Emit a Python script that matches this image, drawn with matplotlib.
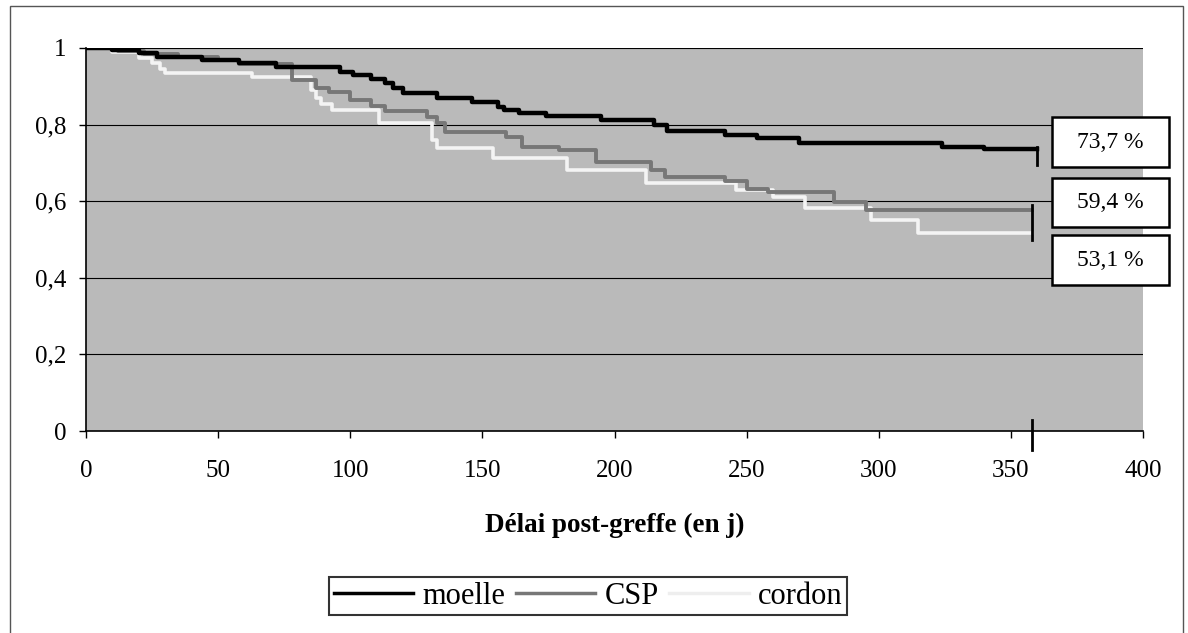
import matplotlib.pyplot as plt
from matplotlib.patches import Rectangle
from matplotlib.lines import Line2D

plt.rcParams['font.family'] = ['Liberation Serif', 'DejaVu Serif']

# survival curves (day, probability)
t_moelle = [0, 10, 20, 27, 44, 58, 72, 96, 101, 108, 113, 116, 120, 133, 146, 156, 158,
            164, 174, 195, 215, 220, 242, 254, 270, 324, 340, 360]
s_moelle = [1, 0.994, 0.986, 0.977, 0.969, 0.961, 0.95, 0.937, 0.93, 0.92, 0.909, 0.896,
            0.883, 0.87, 0.859, 0.846, 0.839, 0.831, 0.823, 0.812, 0.80, 0.784, 0.773,
            0.765, 0.753, 0.742, 0.737, 0.737]

t_csp = [0, 12, 22, 35, 50, 58, 78, 87, 92, 100, 108, 113, 129, 133, 136, 159, 165, 179,
         193, 214, 219, 242, 250, 258, 283, 295, 358]
s_csp = [1, 0.992, 0.984, 0.976, 0.968, 0.958, 0.917, 0.896, 0.885, 0.865, 0.848, 0.835,
         0.82, 0.805, 0.78, 0.768, 0.742, 0.734, 0.703, 0.682, 0.664, 0.654, 0.632,
         0.625, 0.599, 0.578, 0.578]

t_cordon = [0, 10, 20, 25, 28, 30, 63, 85, 87, 89, 93, 111, 131, 133, 154, 182, 212,
            246, 260, 272, 297, 315, 358]
s_cordon = [1, 0.99, 0.975, 0.96, 0.945, 0.935, 0.925, 0.89, 0.87, 0.855, 0.839, 0.805,
            0.76, 0.74, 0.714, 0.682, 0.648, 0.63, 0.612, 0.583, 0.552, 0.518, 0.518]

labels = ['73,7 %', '59,4 %', '53,1 %']
xticks = [0, 50, 100, 150, 200, 250, 300, 350, 400]
yticks = [0, 0.2, 0.4, 0.6, 0.8, 1]
ytick_labels = ['0', '0,2', '0,4', '0,6', '0,8', '1']

W, H = 1188, 633
fig = plt.figure(figsize=(W / 100, H / 100), dpi=100)
ax = fig.add_axes([86 / W, 1 - 431 / H, (1143 - 86) / W, (431 - 48) / H])
ax.set_facecolor('#bababa')

for y in yticks[1:]:
    ax.axhline(y, color='black', lw=0.8, zorder=1)

ax.step(t_cordon, s_cordon, where='post', color='#f4f4f4', lw=2.6, zorder=3)
ax.step(t_csp, s_csp, where='post', color='#777777', lw=2.8, zorder=4)
ax.step(t_moelle, s_moelle, where='post', color='black', lw=3.2, zorder=5)

# censoring marks at the end of follow-up
ax.plot([360, 360], [0.695, 0.742], color='black', lw=2, zorder=6)
ax.plot([358, 358], [0.50, 0.59], color='black', lw=2, zorder=6)
ax.plot([358, 358], [-0.05, 0.03], color='black', lw=2, zorder=6, clip_on=False)

ax.set_xlim(0, 400)
ax.set_ylim(0, 1)
ax.set_xticks(xticks)
ax.set_xticklabels([str(x) for x in xticks])
ax.set_yticks(yticks)
ax.set_yticklabels(ytick_labels)
ax.tick_params(direction='out', length=5, width=1, labelsize=18)
ax.tick_params(axis='x', pad=16)
ax.tick_params(axis='y', pad=9)
for side in ['top', 'right']:
    ax.spines[side].set_visible(False)
for side in ['left', 'bottom']:
    ax.spines[side].set_linewidth(1.2)

ax.set_xlabel('Délai post-greffe (en j)', fontsize=19.5, fontweight='bold', labelpad=22)

# value boxes on the right
box_top = [117, 178, 235]
box_bot = [167, 227, 285]
for lab, y0, y1 in zip(labels, box_top, box_bot):
    fig.patches.append(Rectangle((1052 / W, 1 - y1 / H), (1169 - 1052) / W, (y1 - y0) / H,
                                 transform=fig.transFigure, fc='white', ec='black', lw=1.8))
    fig.text(1110 / W, 1 - (y0 + y1) / 2 / H, lab, ha='center', va='center', fontsize=17)

handles = [Line2D([], [], color='black', lw=2.5),
           Line2D([], [], color='#777777', lw=2.5),
           Line2D([], [], color='#eeeeee', lw=2.5)]
leg = fig.legend(handles, ['moelle', 'CSP', 'cordon'], loc='center',
                 bbox_to_anchor=(588 / W, 1 - 596 / H), ncol=3, fontsize=22,
                 frameon=True, fancybox=False, edgecolor='black', handlelength=2.6,
                 handletextpad=0.3, columnspacing=0.35, borderpad=0.15)
leg.get_frame().set_linewidth(1.5)

fig.patches.append(Rectangle((0.008, -0.02), 0.988, 1.01, transform=fig.transFigure,
                             fill=False, ec='#555555', lw=1))

fig.savefig('out.png', dpi=100)
